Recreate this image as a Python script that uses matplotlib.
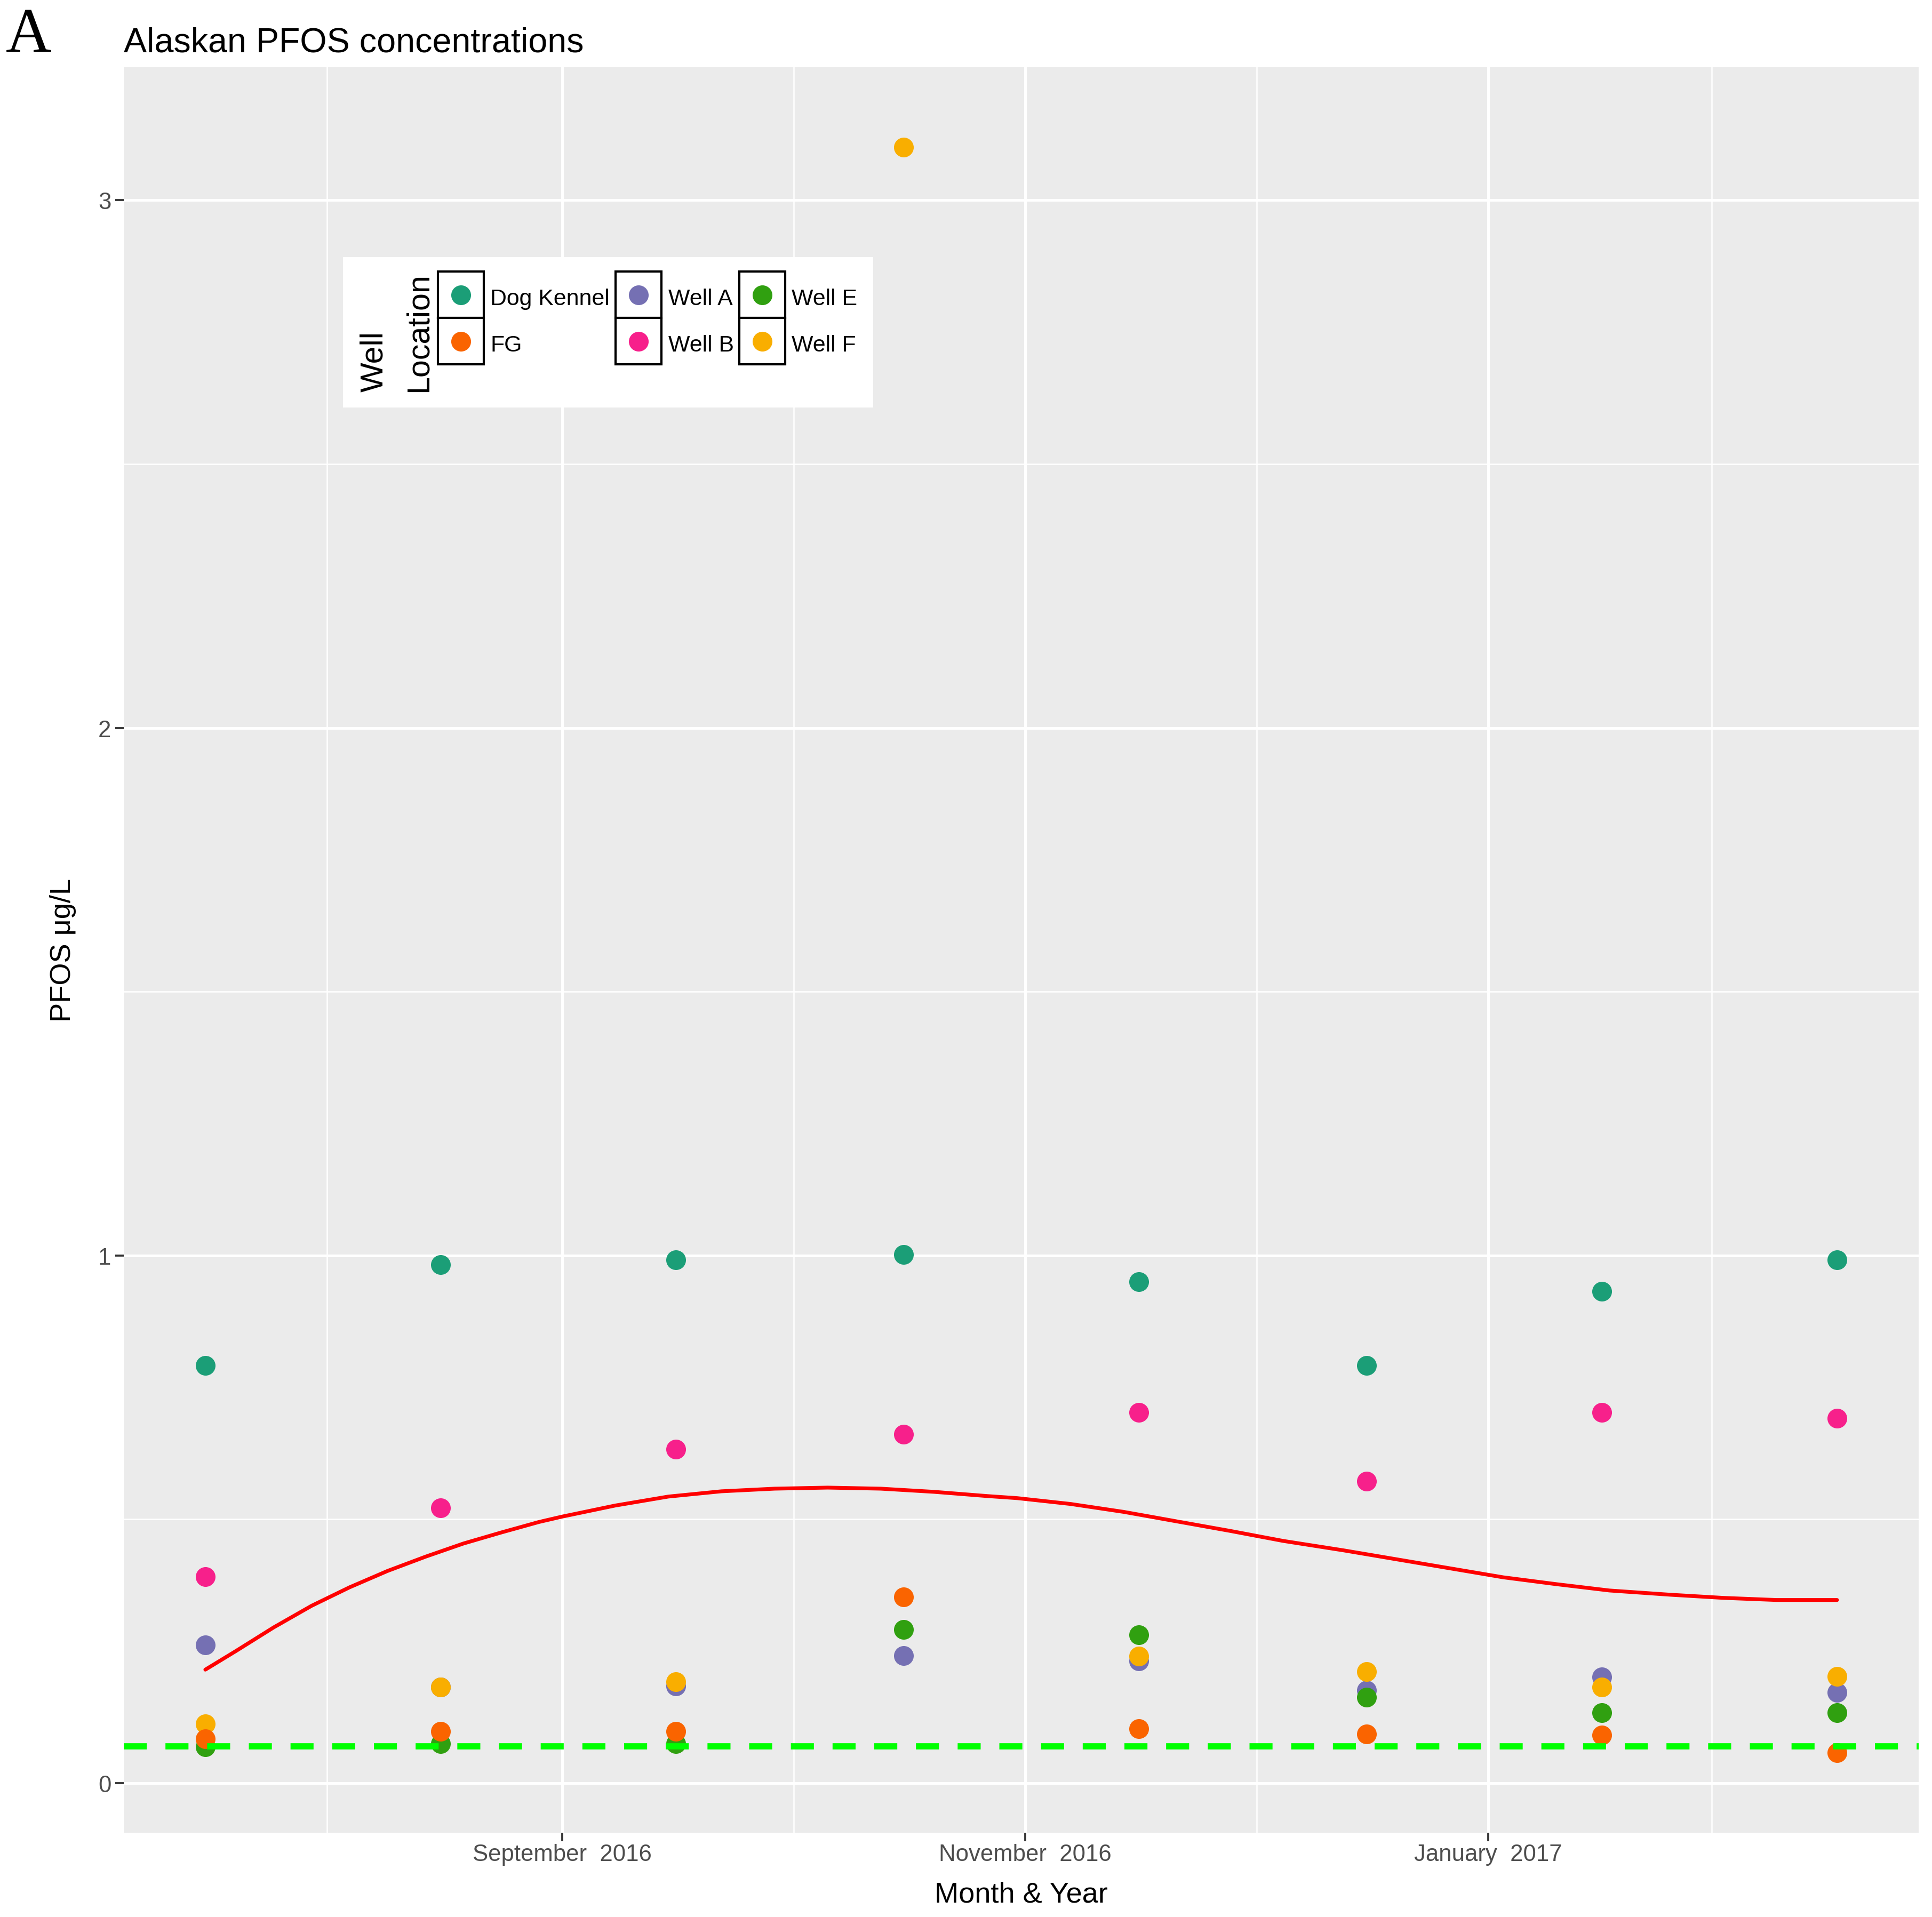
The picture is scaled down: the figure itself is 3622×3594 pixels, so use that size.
import numpy as np
import pandas as pd
import matplotlib
matplotlib.use('Agg')
import matplotlib.pyplot as plt
import matplotlib.dates as mdates
from matplotlib.ticker import FixedLocator
from matplotlib.patches import Rectangle
from matplotlib.lines import Line2D

plt.rcParams['font.family'] = ['Liberation Sans', 'DejaVu Sans']

# monthly samples (mid-month)
sample_dates = ['2016-07-16', '2016-08-16', '2016-09-16', '2016-10-16',
                '2016-11-16', '2016-12-16', '2017-01-16', '2017-02-16']

wells = ['Dog Kennel', 'FG', 'Well A', 'Well B', 'Well E', 'Well F']
dog_kennel = [0.791, 0.983, 0.992, 1.002, 0.950, 0.791, 0.932, 0.992]
fg         = [0.084, 0.098, 0.098, 0.353, 0.103, 0.093, 0.091, 0.058]
well_a     = [0.262, 0.182, 0.184, 0.242, 0.231, 0.176, 0.201, 0.172]
well_b     = [0.391, 0.522, 0.633, 0.661, 0.703, 0.572, 0.703, 0.691]
well_e     = [0.069, 0.075, 0.075, 0.291, 0.281, 0.163, 0.133, 0.133]
well_f     = [0.112, 0.182, 0.192, 3.100, 0.241, 0.211, 0.182, 0.202]

well_colors = ['#1B9E77', '#FA6400', '#7570B3', '#F7208B', '#30A010', '#F9AE00']

# smoothed trend, days after 2016-09-01
curve_days = [-47, -43, -38, -33, -28, -23, -18, -13, -8, -3, 0, 4, 7, 14, 21, 28,
              35, 42, 49, 56, 60, 67, 74, 81, 88, 95, 103, 110, 117, 124, 131, 138,
              146, 153, 160, 168]
curve_vals = [0.215, 0.250, 0.295, 0.336, 0.371, 0.402, 0.429, 0.454, 0.475, 0.495,
              0.505, 0.517, 0.526, 0.543, 0.553, 0.558, 0.560, 0.558, 0.552, 0.544,
              0.540, 0.529, 0.514, 0.496, 0.478, 0.459, 0.441, 0.424, 0.407, 0.390,
              0.377, 0.365, 0.357, 0.351, 0.347, 0.347]

limit_line = 0.07

y_ticks = [0, 1, 2, 3]
y_minor = [0.5, 1.5, 2.5]
major_months = ['2016-07-01', '2016-09-01', '2016-11-01', '2017-01-01', '2017-03-01']

series = dict(zip(wells, [dog_kennel, fg, well_a, well_b, well_e, well_f]))
colors = dict(zip(wells, well_colors))
draw_order = ['Well A', 'Well B', 'Well E', 'Well F', 'FG', 'Dog Kennel']

# figure in pixel terms
W, H = 3622, 3595
def fx(x):
    return x / W
def fy(y):
    return 1 - y / H

fig = plt.figure(figsize=(W / 300, H / 300), dpi=300)
ax = fig.add_axes([fx(232), fy(3437), fx(3597) - fx(232), (3437 - 127) / H])
ax.set_facecolor('#EBEBEB')
for s in ax.spines.values():
    s.set_visible(False)

dates = pd.to_datetime(sample_dates).to_numpy()
for w in draw_order:
    ax.scatter(dates, series[w], s=79, color=colors[w], linewidths=0, zorder=3)

curve_dates = np.datetime64('2016-09-01') + np.array(curve_days).astype('timedelta64[D]')
ax.plot(curve_dates, curve_vals, color='#FF0000', lw=1.7, zorder=4,
        solid_joinstyle='round', solid_capstyle='round')

ax.axhline(limit_line, color='#00FF00', lw=2.8, dashes=(3.7, 3.0), zorder=5)

ax.margins(x=0.05, y=0.05)

# axes / grid
ax.xaxis.set_major_locator(mdates.MonthLocator(bymonth=[1, 3, 5, 7, 9, 11], bymonthday=1))
ax.xaxis.set_major_formatter(mdates.DateFormatter('%B  %Y'))
mm = mdates.date2num(pd.to_datetime(major_months).to_pydatetime())
ax.xaxis.set_minor_locator(FixedLocator((mm[:-1] + mm[1:]) / 2))
ax.set_yticks(y_ticks)
ax.set_yticks(y_minor, minor=True)
ax.set_yticklabels([str(t) for t in y_ticks])
ax.grid(which='major', color='white', lw=1.2)
ax.grid(which='minor', color='white', lw=0.6)
ax.set_axisbelow(True)
ax.tick_params(which='major', length=3.8, width=0.9, color='#333333',
               labelcolor='#4D4D4D', labelsize=10.5)
ax.tick_params(axis='x', which='major', pad=1)
ax.tick_params(axis='y', which='major', pad=1.9)
ax.tick_params(which='minor', length=0)

# titles
fig.text(fx(11), fy(97), 'A', family=['Liberation Serif', 'DejaVu Serif'],
         fontsize=28.5, ha='left', va='baseline')
fig.text(fx(232), fy(97), 'Alaskan PFOS concentrations', fontsize=15.5,
         ha='left', va='baseline')
fig.text(fx(1914), fy(3567), 'Month & Year', fontsize=13, ha='center', va='baseline')
fig.text(fx(118), fy(1782), 'PFOS μg/L', fontsize=13, rotation=90,
         ha='center', va='center')

# legend, ggplot style with rotated title
fig.add_artist(Rectangle((fx(643), fy(765)), fx(1637) - fx(643), (765 - 483) / H,
                         transform=fig.transFigure, facecolor='white',
                         edgecolor='none', zorder=6))
fig.text(fx(702), fy(735), 'Well', fontsize=14.2, rotation=90,
         ha='center', va='bottom', zorder=7)
fig.text(fx(785), fy(735), 'Location', fontsize=14.2, rotation=90,
         ha='center', va='bottom', zorder=7)
key_x = [821, 1154, 1386]
lab_x = [919, 1253, 1484]
row_y = [510, 597]
kw, kh = 86, 87
for i, w in enumerate(wells):
    c, r = i // 2, i % 2
    x0, y0 = key_x[c], row_y[r]
    fig.add_artist(Rectangle((fx(x0), fy(y0 + kh)), kw / W, kh / H,
                             transform=fig.transFigure, facecolor='white',
                             edgecolor='black', lw=1.0, zorder=7))
    fig.add_artist(Line2D([fx(x0 + kw / 2)], [fy(y0 + kh / 2)], marker='o',
                          markersize=8.9, markeredgewidth=0, color=colors[w],
                          transform=fig.transFigure, zorder=8))
    fig.text(fx(lab_x[c]), fy(y0 + 62), w, fontsize=10.3, ha='left',
             va='baseline', zorder=8)

plt.savefig('out.png', dpi=300)
